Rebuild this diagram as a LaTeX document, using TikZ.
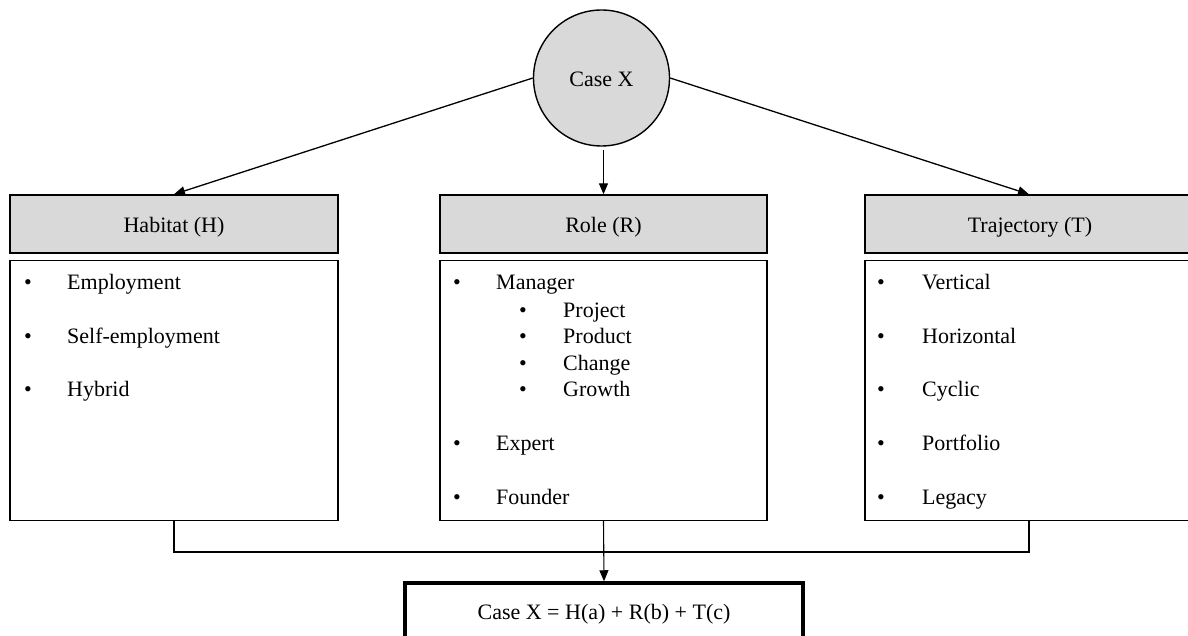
\documentclass[tikz,border=0pt]{standalone}
\usepackage{fontspec}
\setmainfont{Liberation Serif}
\usetikzlibrary{arrows.meta}
\definecolor{boxgray}{HTML}{D9D9D9}
\begin{document}
\begin{tikzpicture}[x=1pt,y=-1pt,
  every node/.style={font=\fontsize{22}{26}\selectfont, inner sep=0pt},
  header/.style={draw, line width=1.4pt, fill=boxgray, minimum height=58pt},
  content/.style={draw, line width=1.3pt, fill=white, minimum height=260pt},
  arr/.style={line width=1.3pt, -{Triangle[length=11pt,width=9pt]}},
  lin/.style={line width=1.3pt},
  txt/.style={anchor=base west},
  bul/.style={anchor=base west}
]
\useasboundingbox (0,0) rectangle (1188,636);
\begin{scope}
\clip (0,0) rectangle (1188,636);
% circle
\node[circle, draw, line width=1.4pt, fill=boxgray, minimum size=136pt] (cx) at (601.5,78) {};
\node[anchor=base] (cxt) at (601.5,87) {Case X};
% headers
\node[header, minimum width=328pt] (hH) at (174,224) {};
\node[header, minimum width=327pt] (rH) at (603.5,224) {};
\node[header, minimum width=328pt] (tH) at (1029,224) {};
\node[anchor=base] (hHt) at (174,233) {Habitat (H)};
\node[anchor=base] (rHt) at (603.5,233) {Role (R)};
\node[anchor=base] (tHt) at (1030,233) {Trajectory (T)};
% content boxes
\node[content, minimum width=328pt] (hB) at (174,390.5) {};
\node[content, minimum width=327pt] (rB) at (603.5,390.5) {};
\node[content, minimum width=328pt] (tB) at (1029,390.5) {};
% Habitat items
\node[bul] (hb1) at (24,290) {•};
\node[txt] (ht1) at (67,290) {Employment};
\node[bul] (hb2) at (24,343) {•};
\node[txt] (ht2) at (67,343) {Self-employment};
\node[bul] (hb3) at (24,396) {•};
\node[txt] (ht3) at (67,396) {Hybrid};
% Role items
\node[bul] (rb1) at (453,290) {•};
\node[txt] (rt1) at (496,290) {Manager};
\node[bul] (rs1) at (519,317) {•};
\node[txt] (rst1) at (563,317) {Project};
\node[bul] (rs2) at (519,343) {•};
\node[txt] (rst2) at (563,343) {Product};
\node[bul] (rs3) at (519,370) {•};
\node[txt] (rst3) at (563,370) {Change};
\node[bul] (rs4) at (519,396) {•};
\node[txt] (rst4) at (563,396) {Growth};
\node[bul] (rb2) at (453,450) {•};
\node[txt] (rt2) at (496,450) {Expert};
\node[bul] (rb3) at (453,504) {•};
\node[txt] (rt3) at (496,504) {Founder};
% Trajectory items
\node[bul] (tb1) at (877,290) {•};
\node[txt] (tt1) at (922,290) {Vertical};
\node[bul] (tb2) at (877,343) {•};
\node[txt] (tt2) at (922,343) {Horizontal};
\node[bul] (tb3) at (877,396) {•};
\node[txt] (tt3) at (922,396) {Cyclic};
\node[bul] (tb4) at (877,450) {•};
\node[txt] (tt4) at (922,450) {Portfolio};
\node[bul] (tb5) at (877,504) {•};
\node[txt] (tt5) at (922,504) {Legacy};
% result box
\node[draw, line width=3.5pt, fill=white, minimum width=398pt, minimum height=62pt] (res) at (604,614) {};
\node[anchor=base] (rest) at (604,619) {Case X = H(a) + R(b) + T(c)};
% connectors
\draw[arr] (cx.west) -- (hH.north);
\draw[arr] (rH.north |- cx.south) ++(0,3) -- (rH.north);
\draw[arr] (cx.east) -- (tH.north);
\coordinate (bus) at (0,552);
\draw[lin] (hB.south) -- (hB.south |- bus) -- (tB.south |- bus) -- (tB.south);
\draw[arr, line width=1.1pt] (rB.south) -- (res.north);
\end{scope}
\end{tikzpicture}
\end{document}
